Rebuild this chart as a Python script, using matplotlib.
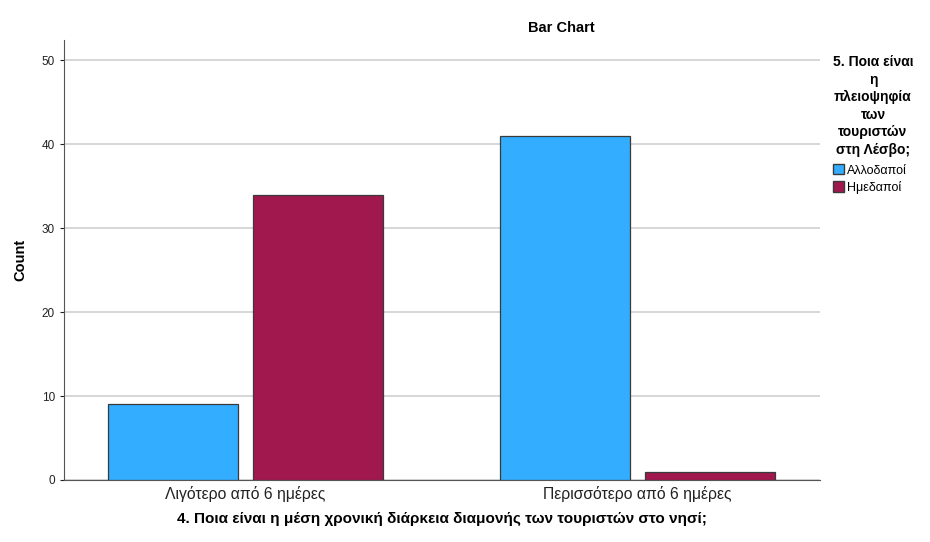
import matplotlib
matplotlib.use("Agg")
import matplotlib.pyplot as plt
import numpy as np
from matplotlib.patches import Patch

plt.rcParams['font.family'] = ['Liberation Sans', 'DejaVu Sans']

categories = ["Λιγότερο από 6 ημέρες", "Περισσότερο από 6 ημέρες"]
series_names = ["Αλλοδαποί", "Ημεδαποί"]
allodapoi = [9, 41]
imedapoi = [34, 1]
yticks = [0, 10, 20, 30, 40, 50]

colors = ["#33ADFF", "#A0184E"]

fig = plt.figure(figsize=(9.3, 5.42), dpi=100)
ax = fig.add_axes([64/930, 1-480/542, (820-64)/930, (480-40)/542])

x = np.arange(len(categories))
w = 0.332
off = 0.185
ax.bar(x - off, allodapoi, width=w, color=colors[0], edgecolor="#3A3A3A", linewidth=0.9, zorder=3)
ax.bar(x + off, imedapoi, width=w, color=colors[1], edgecolor="#3A3A3A", linewidth=0.9, zorder=3)

ax.set_xlim(-0.463, 1.466)
ax.set_ylim(0, 52.4)
ax.set_yticks(yticks)
ax.set_xticks(x)
ax.set_xticklabels(categories, fontsize=11.3, color="#222222")
ax.tick_params(axis='y', labelsize=8.5, colors="#222222", length=3, width=0.8)
ax.tick_params(axis='x', length=0, pad=4)
ax.grid(axis='y', color="#D0D0D0", linewidth=1.2, zorder=0)
for s in ['top', 'right']:
    ax.spines[s].set_visible(False)
ax.spines['left'].set_color("#555555")
ax.spines['bottom'].set_color("#555555")

ax.set_ylabel("Count", fontsize=10.5, fontweight='bold', labelpad=10)
fig.text(442/930, 1-519/542, "4. Ποια είναι η μέση χρονική διάρκεια διαμονής των τουριστών στο νησί;",
         ha='center', va='center', fontsize=11, fontweight='bold')
fig.text(561/930, 1-28/542, "Bar Chart", ha='center', va='center', fontsize=10.5, fontweight='bold')

fig.text(873/930, 1-55/542, "5. Ποια είναι\nη\nπλειοψηφία\nτων\nτουριστών\nστη Λέσβο;",
         ha='center', va='top', fontsize=10, fontweight='bold', linespacing=1.32)

handles = [Patch(facecolor=colors[0], edgecolor="#3A3A3A"), Patch(facecolor=colors[1], edgecolor="#3A3A3A")]
fig.legend(handles, series_names, loc='upper left', bbox_to_anchor=(833/930, 1-164/542),
           frameon=False, fontsize=9, handlelength=0.9, handleheight=0.9, handletextpad=0.2,
           labelspacing=0.35, borderaxespad=0, borderpad=0)

fig.savefig("out.png", dpi=100)
